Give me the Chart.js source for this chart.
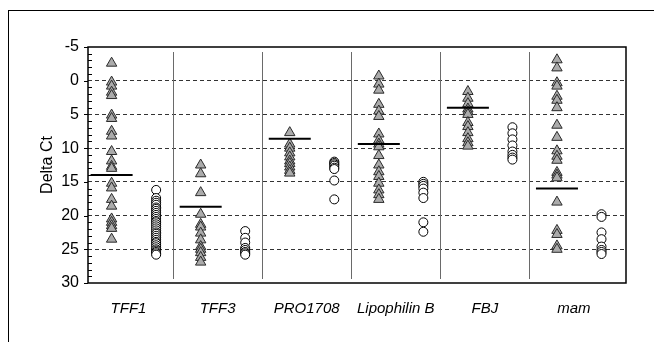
<!DOCTYPE html>
<html>
<head>
<meta charset="utf-8">
<script src="https://cdn.jsdelivr.net/npm/chart.js@4.4.0/dist/chart.umd.min.js"></script>
<style>
  body { margin: 0; background: #fff; }
  #wrap { position: relative; width: 654px; height: 342px; overflow: hidden; }
  #frame { position: absolute; left: 8px; top: 10px; width: 700px; height: 400px;
           border-left: 1px solid #000; border-top: 1px solid #000; }
  canvas { position: absolute; left: 0; top: 0; }
</style>
</head>
<body>
<div id="wrap">
  <div id="frame"></div>
  <canvas id="delta_ct_chart" width="654" height="342"></canvas>
</div>
<script>
"use strict"

// genes on the x axis
var categories = ['TFF1', 'TFF3', 'PRO1708', 'Lipophilin B', 'FBJ', 'mam'];

// triangles (grey) per gene, Delta Ct
var tff1Triangles = [-2.6, 0.2, 0.8, 1.7, 2.2, 5.1, 5.6, 7.5, 8.2, 10.5, 11.9, 12.7, 13.0, 15.2, 15.9, 17.6, 18.6, 20.5, 21.0, 21.5, 21.9, 23.5];
var tff3Triangles = [12.5, 13.8, 16.6, 19.8, 21.3, 21.7, 22.6, 23.6, 24.6, 25.0, 25.5, 26.2, 26.9];
var pro1708Triangles = [7.7, 9.4, 10.0, 10.7, 11.3, 11.9, 12.3, 12.8, 13.3, 13.7];
var lipophilinTriangles = [-0.7, 0.5, 1.4, 3.5, 4.5, 5.3, 7.9, 8.8, 9.4, 9.8, 11.1, 12.5, 13.5, 14.2, 15.2, 16.2, 16.9, 17.6];
var fbjTriangles = [1.6, 2.6, 3.4, 4.2, 4.6, 5.0, 6.2, 6.8, 7.7, 8.6, 9.2, 9.7];
var mamTriangles = [-3.1, -1.9, 0.3, 0.8, 2.3, 2.9, 4.0, 6.6, 8.4, 10.4, 11.2, 11.8, 13.6, 14.0, 14.4, 18.0, 22.2, 22.8, 24.5, 25.0];

// open circles per gene, Delta Ct
var tff1Circles = [16.2, 17.4, 17.8, 18.1, 18.4, 18.8, 19.0, 19.3, 19.6, 19.9, 20.2, 20.5, 20.8, 21.0, 21.3, 21.6, 21.9, 22.2, 22.5, 22.7, 23.0, 23.3, 23.6, 23.9, 24.1, 24.4, 24.7, 25.0, 25.2, 25.4, 25.6, 25.8];
var tff3Circles = [22.3, 23.3, 24.0, 24.8, 25.1, 25.4, 25.6, 25.8];
var pro1708Circles = [12.0, 12.2, 12.4, 12.6, 12.9, 13.1, 14.8, 17.6];
var lipophilinCircles = [15.0, 15.3, 15.6, 16.0, 16.6, 17.4, 21.0, 22.4];
var fbjCircles = [6.9, 7.8, 8.7, 9.6, 10.5, 11.0, 11.4, 11.7];
var mamCircles = [19.8, 20.2, 22.5, 23.5, 24.6, 25.1, 25.4, 25.7];

// horizontal bar on the triangle column
var meanCt = [14.0, 18.7, 8.6, 9.4, 4.0, 16.0];

var yTicks = [-5, 0, 5, 10, 15, 20, 25, 30];

var triangleSets = [tff1Triangles, tff3Triangles, pro1708Triangles, lipophilinTriangles, fbjTriangles, mamTriangles];
var circleSets = [tff1Circles, tff3Circles, pro1708Circles, lipophilinCircles, fbjCircles, mamCircles];

var fontFamily = '"Liberation Sans", Arial, sans-serif';
var triangleOffset = 0.31;
var circleOffset = 0.81;

function columnPoints(sets, offset) {
    var pts = [];
    sets.forEach(function (vals, i) {
        vals.forEach(function (v) { pts.push({ x: i + offset, y: v }); });
    });
    return pts;
}

// box, axis ticks and gene separators
var boxPlugin = {
    id: 'boxPlugin',
    beforeDatasetsDraw: function (chart) {
        var ctx = chart.ctx, a = chart.chartArea, x = chart.scales.x;
        ctx.save();
        ctx.strokeStyle = '#6a6a6a';
        ctx.lineWidth = 1;
        ctx.beginPath();
        for (var i = 1; i < categories.length; i++) {
            var px = Math.round(x.getPixelForValue(i)) + 0.5;
            ctx.moveTo(px, a.top + 5);
            ctx.lineTo(px, a.bottom - 4);
        }
        ctx.stroke();
        ctx.restore();
    },
    afterDraw: function (chart) {
        var ctx = chart.ctx, a = chart.chartArea, y = chart.scales.y;
        ctx.save();
        ctx.strokeStyle = '#000';
        ctx.lineWidth = 1.5;
        ctx.strokeRect(a.left, a.top, a.right - a.left, a.bottom - a.top);
        ctx.lineWidth = 1;
        ctx.beginPath();
        for (var v = yTicks[0]; v <= yTicks[yTicks.length - 1]; v++) {
            var py = Math.round(y.getPixelForValue(v)) + 0.5;
            if (v % 5 === 0) {
                ctx.moveTo(a.left - 4, py);
                ctx.lineTo(a.left, py);
            } else {
                ctx.moveTo(a.left, py);
                ctx.lineTo(a.left + 4, py);
            }
        }
        ctx.stroke();
        ctx.restore();
    }
};

var delta_ct_config = {
    type: 'scatter',
    data: {
        datasets: [{
            label: 'mean',
            data: meanCt.map(function (m, i) { return { x: i + triangleOffset, y: m }; }),
            pointStyle: 'line',
            pointRadius: 21,
            borderColor: '#000',
            pointBorderWidth: 2,
            order: 0
        }, {
            label: 'triangles',
            data: columnPoints(triangleSets, triangleOffset),
            pointStyle: 'triangle',
            pointRadius: 6,
            backgroundColor: '#ababab',
            borderColor: '#2a2a2a',
            pointBorderWidth: 1,
            order: 1
        }, {
            label: 'circles',
            data: columnPoints(circleSets, circleOffset),
            pointStyle: 'circle',
            pointRadius: 4.5,
            backgroundColor: '#fff',
            borderColor: '#000',
            pointBorderWidth: 1,
            order: 2
        }]
    },
    options: {
        responsive: false,
        animation: false,
        events: [],
        layout: { padding: { top: 47, right: 28, bottom: 0, left: 0 } },
        plugins: {
            legend: { display: false },
            tooltip: { enabled: false }
        },
        scales: {
            x: {
                type: 'linear',
                min: 0.045,
                max: 6.085,
                afterBuildTicks: function (s) {
                    s.ticks = categories.map(function (c, i) { return { value: i + 0.5 }; });
                },
                afterFit: function (s) { s.height = 59; },
                ticks: {
                    autoSkip: false,
                    maxRotation: 0,
                    padding: 9,
                    color: '#000',
                    font: { family: fontFamily, size: 15, style: 'italic' },
                    callback: function (v) { return categories[Math.round(v - 0.5)]; }
                },
                grid: { display: false },
                border: { display: false }
            },
            y: {
                type: 'linear',
                reverse: true,
                min: yTicks[0],
                max: yTicks[yTicks.length - 1],
                afterBuildTicks: function (s) {
                    s.ticks = yTicks.map(function (v) { return { value: v }; });
                },
                afterFit: function (s) { s.width = 88; },
                ticks: {
                    padding: 9,
                    color: '#000',
                    font: { family: fontFamily, size: 16 }
                },
                grid: {
                    drawTicks: false,
                    lineWidth: 1,
                    color: function (c) {
                        var v = c.tick ? c.tick.value : null;
                        return (v === yTicks[0] || v === yTicks[yTicks.length - 1]) ? 'rgba(0,0,0,0)' : '#333';
                    }
                },
                border: { display: false, dash: [4, 3] },
                title: {
                    display: true,
                    text: 'Delta Ct',
                    color: '#000',
                    font: { family: fontFamily, size: 16 },
                    padding: { top: 38, bottom: 0 }
                }
            }
        }
    },
    plugins: [boxPlugin]
};

var delta_ct_ctx = document.getElementById('delta_ct_chart').getContext('2d');
var delta_ct_chart = new Chart(delta_ct_ctx, delta_ct_config);
</script>
</body>
</html>
